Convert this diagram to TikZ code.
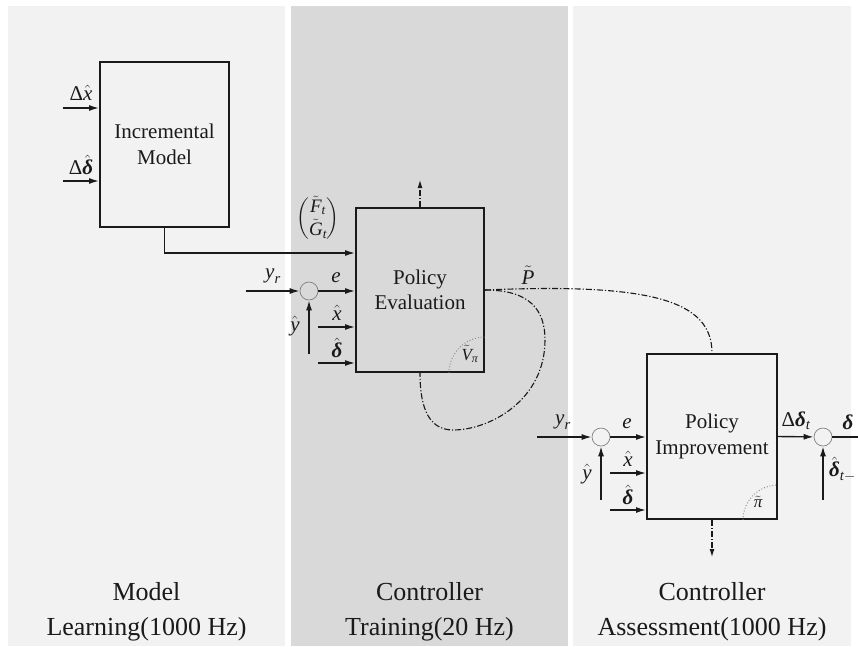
\documentclass[tikz,border=0pt]{standalone}
\usepackage{amsmath}
\usepackage{fontspec}
\setmainfont{Liberation Serif}
\usetikzlibrary{arrows.meta}
\definecolor{lightpanel}{HTML}{F2F2F2}
\definecolor{darkpanel}{HTML}{D9D9D9}
\definecolor{ink}{HTML}{1A1A1A}
\newcommand{\tmi}[1]{\textit{#1}}
\newcommand{\tbd}{\textbf{\textit{δ}}}
\begin{document}
\begin{tikzpicture}[x=1pt,y=-1pt,
  every node/.style={text=ink, font=\fontsize{21}{25.5}\selectfont},
  block/.style={draw=ink, line width=2pt, align=center, inner sep=0pt},
  sumj/.style={circle, draw=gray, line width=0.7pt, minimum size=18pt, inner sep=0pt},
  arr/.style={draw=ink, line width=1.4pt, -{Latex[length=10pt,width=6pt]}},
  dd/.style={draw=ink, line width=1.1pt, dash pattern=on 6pt off 2pt on 1.2pt off 2pt},
  dots/.style={draw=gray, line width=0.9pt, dotted},
  lbl/.style={inner sep=0pt},
  small/.style={font=\fontsize{17}{20}\selectfont},
  matfont/.style={font=\fontsize{19}{22}\selectfont},
  bottomlbl/.style={align=center, font=\fontsize{26}{35}\selectfont}]
\useasboundingbox (0,0) rectangle (858,646);
\fill[white] (0,0) rectangle (858,646);
\fill[lightpanel] (8,6) rectangle (285,646);
\fill[darkpanel] (291,6) rectangle (568,646);
\fill[lightpanel] (573,6) rectangle (851,646);

% blocks
\node[block, minimum width=129pt, minimum height=165pt] (im) at (164.5,144.5) {Incremental\\Model};
\node[block, minimum width=128pt, minimum height=164pt] (pe) at (420,290) {Policy\\Evaluation};
\node[block, minimum width=130pt, minimum height=165pt] (pi) at (712,436.5) {Policy\\Improvement};

% junctions
\node[sumj] (s1) at (309,291) {};
\node[sumj] (s2) at (601,437) {};
\node[sumj] (s3) at (823,437) {};

% incremental model inputs
\coordinate (dxin) at (63,108);
\coordinate (ddin) at (63,181);
\draw[arr] (dxin) -- (dxin -| im.west);
\draw[arr] (ddin) -- (ddin -| im.west);
\node[lbl] (ldx) at (81,93) {Δ$\hat{\tmi{x}}$};
\node[lbl] (ldd) at (81,165) {Δ$\hat{\tbd}$};

% model output to policy evaluation
\draw[arr] (im.south) |- (pe.west |- 0,253);
\node[lbl, matfont] (lfg) at (318,219) {$\begin{pmatrix}\tilde{\tmi{F}}_{\tmi{t}}\\ \tilde{\tmi{G}}_{\tmi{t}}\end{pmatrix}$};

% policy evaluation inputs
\coordinate (yr1) at (246,291);
\coordinate (yh1) at (309,354);
\coordinate (xh1) at (318,327);
\coordinate (dh1) at (318,363);
\draw[arr] (yr1) -- (s1);
\draw[arr] (s1) -- (s1 -| pe.west);
\draw[arr] (yh1) -- (s1);
\draw[arr] (xh1) -- (xh1 -| pe.west);
\draw[arr] (dh1) -- (dh1 -| pe.west);
\node[lbl] (lyr1) at (273,276) {$\tmi{y}_{\tmi{r}}$};
\node[lbl] (le1) at (336,278) {$\tmi{e}$};
\node[lbl] (lyh1) at (295,326) {$\hat{\tmi{y}}$};
\node[lbl] (lxh1) at (337,313) {$\hat{\tmi{x}}$};
\node[lbl] (ldh1) at (337,348) {$\hat{\tbd}$};

% value corner
\draw[dots] (pe.south east) ++(-36,0) arc[start angle=180, end angle=270, radius=36];
\node[lbl, small] (lv) at (470,354) {$\tilde{\tmi{V}}_{\tmi{π}}$};

% dash-dot connections
\coordinate (peup) at (420,180);
\draw[dd, -{Latex[length=8pt,width=5pt]}] (pe.north) -- (peup);
\draw[dd] (pe.east) .. controls (650,283) and (712,300) .. (pi.north);
\draw[dd] (pe.east) .. controls (530,290) and (545,310) .. (545,340)
  .. controls (545,400) and (490,430) .. (453,430)
  .. controls (425,430) and (420,400) .. (pe.south);
\node[lbl] (lp) at (528,275) {$\tilde{\tmi{P}}$};

% policy improvement inputs
\coordinate (yr2) at (537,437);
\coordinate (yh2) at (601,500);
\coordinate (xh2) at (610,473);
\coordinate (dh2) at (610,510);
\draw[arr] (yr2) -- (s2);
\draw[arr] (s2) -- (s2 -| pi.west);
\draw[arr] (yh2) -- (s2);
\draw[arr] (xh2) -- (xh2 -| pi.west);
\draw[arr] (dh2) -- (dh2 -| pi.west);
\node[lbl] (lyr2) at (563,422) {$\tmi{y}_{\tmi{r}}$};
\node[lbl] (le2) at (627,424) {$\tmi{e}$};
\node[lbl] (lyh2) at (587,474) {$\hat{\tmi{y}}$};
\node[lbl] (lxh2) at (628,459) {$\hat{\tmi{x}}$};
\node[lbl] (ldh2) at (628,495) {$\hat{\tbd}$};

\draw[dots] (pi.south east) ++(-35,0) arc[start angle=180, end angle=270, radius=35];
\node[lbl, small] (lpi) at (758,502) {$\tilde{\tmi{π}}$};

\coordinate (pidown) at (712,557);
\draw[dd, -{Latex[length=8pt,width=5pt]}] (pi.south) -- (pidown);

% output
\coordinate (outend) at (858,437);
\coordinate (dtm) at (823,500);
\draw[arr] (pi.east) -- (s3);
\draw[draw=ink, line width=1.4pt] (s3) -- (outend);
\draw[arr] (dtm) -- (s3);
\node[lbl] (ldt) at (796,421) {Δ$\tbd_{\tmi{t}}$};
\node[lbl] (lout) at (848,422) {$\tbd$};
\node[lbl, anchor=west] (ldtm) at (829,469) {$\hat{\tbd}_{\tmi{t}-}$};

% bottom labels
\node[bottomlbl] (b1) at (146.5,612) {Model\\Learning(1000 Hz)};
\node[bottomlbl] (b2) at (429.5,612) {Controller\\Training(20 Hz)};
\node[bottomlbl] (b3) at (712,612) {Controller\\Assessment(1000 Hz)};
\end{tikzpicture}
\end{document}
